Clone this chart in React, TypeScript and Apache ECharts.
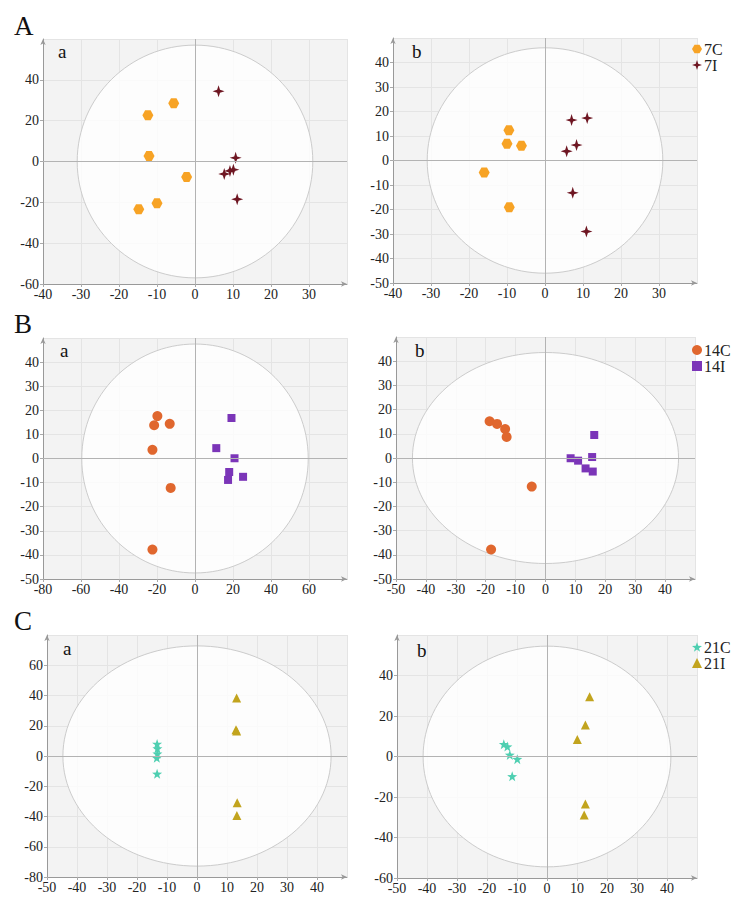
import React, { useEffect, useRef } from "react";
import * as echarts from "echarts";

const SERIF = "Liberation Serif";

// ---- data (score plots) ----
const aA_7C = [[-5.6, 28.5], [-12.4, 22.7], [-12.1, 2.7], [-2.2, -7.6], [-10, -20.5], [-14.8, -23.4]];
const aA_7I = [[6.2, 34.4], [10.7, 1.8], [7.7, -6.1], [9.2, -4.6], [10.1, -4], [11.1, -18.5]];
const bA_7C = [[-9.5, 12.3], [-10, 6.8], [-6.2, 6], [-16, -4.9], [-9.4, -19.1]];
const bA_7I = [[7, 16.5], [11.1, 17.3], [8.3, 6.3], [5.7, 3.8], [7.3, -13.2], [10.9, -29]];

const aB_14C = [[-19.8, 17.6], [-21.5, 13.8], [-13.3, 14.4], [-22.4, 3.6], [-12.8, -12.2], [-22.4, -37.8]];
const aB_14I = [[19.2, 16.8], [11.2, 4.3], [20.8, 0.1], [18, -5.6], [17.4, -8.9], [25.3, -7.6]];
const bB_14C = [[-18.7, 15.2], [-16.2, 14.1], [-13.5, 12], [-13, 8.7], [-4.6, -11.8], [-18.2, -37.8]];
const bB_14I = [[16.3, 9.5], [8.4, -0.1], [10.9, -1.1], [15.6, 0.4], [13.4, -4.3], [15.8, -5.6]];

const aC_21C = [[-13.3, 8], [-13.2, 5], [-13.2, 1.5], [-13.4, -1.2], [-13.3, -11.8]];
const aC_21I = [[13.2, 38.3], [13, 17.3], [13.2, 16.6], [13.4, -30.9], [13.3, -39.4]];
const bC_21C = [[-14.4, 6.1], [-13.2, 4.9], [-12.4, 0.8], [-9.9, -1.3], [-11.6, -9.8]];
const bC_21I = [[14.2, 29.5], [12.8, 15.6], [10.1, 8.4], [12.8, -23.4], [12.4, -28.9]];

// Hotelling T2 ellipse half-axes [rx, ry] per panel
const ellipses = [[31, 57], [31, 46], [59.6, 47.5], [44.5, 43.6], [44.7, 72.8], [41.3, 54.5]];
// axis ranges [min, max, interval]
const xRanges = [[-40, 40, 10], [-40, 40, 10], [-80, 80, 20], [-50, 50, 10], [-50, 50, 10], [-50, 50, 10]];
const yRanges = [[-60, 60, 20], [-50, 50, 10], [-50, 50, 10], [-50, 50, 10], [-80, 80, 20], [-60, 60, 20]];

const HEX = "path://M-1,0 L-0.5,-0.866 L0.5,-0.866 L1,0 L0.5,0.866 L-0.5,0.866 Z";
const STAR4 = "path://M0,-10 L2.4,-2.4 L10,0 L2.4,2.4 L0,10 L-2.4,2.4 L-10,0 L-2.4,-2.4 Z";
const STAR5 =
  "path://M0,-1 L0.235,-0.324 L0.951,-0.309 L0.38,0.124 L0.588,0.809 L0,0.4 L-0.588,0.809 L-0.38,0.124 L-0.951,-0.309 L-0.235,-0.324 Z";

const styles: Record<string, any> = {
  "7C": { symbol: HEX, size: [11, 10], color: "#F7A325" },
  "7I": { symbol: STAR4, size: 12, color: "#6E1622" },
  "14C": { symbol: "circle", size: 10, color: "#E0672E" },
  "14I": { symbol: "rect", size: 8, color: "#7B35B8" },
  "21C": { symbol: STAR5, size: 10, color: "#4ECFB1" },
  "21I": { symbol: "triangle", size: 9, color: "#C2A41E" },
};

const grids = [
  { left: 43, top: 39, width: 304, height: 245 },
  { left: 393, top: 38, width: 304, height: 245 },
  { left: 43, top: 338, width: 304, height: 241 },
  { left: 396, top: 337, width: 299, height: 242 },
  { left: 47, top: 635, width: 300, height: 242 },
  { left: 397, top: 635, width: 300, height: 243 },
];

const panelSeries: [string, number[][]][][] = [
  [["7C", aA_7C], ["7I", aA_7I]],
  [["7C", bA_7C], ["7I", bA_7I]],
  [["14C", aB_14C], ["14I", aB_14I]],
  [["14C", bB_14C], ["14I", bB_14I]],
  [["21C", aC_21C], ["21I", aC_21I]],
  [["21C", bC_21C], ["21I", bC_21I]],
];

const subLabels = [
  { t: "a", x: 58, y: 52 },
  { t: "b", x: 412, y: 52 },
  { t: "a", x: 60, y: 351 },
  { t: "b", x: 415, y: 351 },
  { t: "a", x: 63, y: 649 },
  { t: "b", x: 417, y: 651 },
];
const bigLabels = [
  { t: "A", x: 14, y: 26 },
  { t: "B", x: 14, y: 324 },
  { t: "C", x: 14, y: 621 },
];

export default function App() {
  const ref = useRef<HTMLDivElement>(null);
  useEffect(() => {
    if (!ref.current) return;
    const chart = echarts.init(ref.current, null, { renderer: "svg" });

    const tickRich = { t: { fontSize: 14, fontFamily: SERIF, color: "#222" } };
    const fmt = (v: number) => "{t|" + v + "}";
    const series: any[] = [];
    grids.forEach((_, i) => {
      series.push({
        type: "custom",
        name: "ellipse" + i,
        xAxisIndex: i,
        yAxisIndex: i,
        silent: true,
        z: 1,
        data: [ellipses[i]],
        renderItem: (params: any, api: any) => {
          const c = api.coord([0, 0]);
          const s = api.size([api.value(0), api.value(1)]);
          return {
            type: "ellipse",
            shape: { cx: c[0], cy: c[1], rx: s[0], ry: s[1] },
            style: { fill: "rgba(255,255,255,0.82)", stroke: "#cccccc", lineWidth: 1 },
          };
        },
        markLine: {
          silent: true,
          symbol: ["none", "none"],
          label: { show: false },
          lineStyle: { color: "#b3b3b3", type: "solid", width: 1 },
          data: [{ xAxis: 0 }, { yAxis: 0 }],
        },
      });
      panelSeries[i].forEach(([name, data]) => {
        const st = styles[name];
        series.push({
          type: "scatter",
          name,
          xAxisIndex: i,
          yAxisIndex: i,
          z: 3,
          symbol: st.symbol,
          symbolSize: st.size,
          itemStyle: { color: st.color, opacity: 1 },
          data,
        });
      });
    });

    const legendBase = {
      orient: "vertical",
      itemWidth: 10,
      itemHeight: 10,
      itemGap: 0,
      padding: 0,
      selectedMode: false,
      textStyle: { fontSize: 16, fontFamily: SERIF, color: "#222", lineHeight: 14.5, padding: [0, 0, 0, -3] },
    };

    const axisCommon = {
      type: "value",
      axisLine: {
        show: true,
        onZero: false,
        symbol: ["none", "arrow"],
        symbolSize: [4, 6],
        lineStyle: { color: "#999" },
      },
      axisTick: { show: true, length: 3, lineStyle: { color: "#aaa" } },
      splitLine: { show: true, lineStyle: { color: "#e4e4e4" } },
    };

    chart.setOption({
      animation: false,
      backgroundColor: "#ffffff",
      textStyle: { fontFamily: SERIF },
      grid: grids.map((g) => ({ ...g, show: true, backgroundColor: "#f3f3f3", borderWidth: 0 })),
      xAxis: grids.map((_, i) => ({
        ...axisCommon,
        gridIndex: i,
        min: xRanges[i][0],
        max: xRanges[i][1],
        interval: xRanges[i][2],
        axisLabel: { fontFamily: SERIF, fontSize: 14, color: "#222", margin: 3, showMaxLabel: false, formatter: fmt, rich: tickRich },
      })),
      yAxis: grids.map((_, i) => ({
        ...axisCommon,
        gridIndex: i,
        min: yRanges[i][0],
        max: yRanges[i][1],
        interval: yRanges[i][2],
        axisLabel: { fontFamily: SERIF, fontSize: 14, color: "#222", margin: 4, showMaxLabel: false, formatter: fmt, rich: tickRich },
      })),
      legend: [
        { ...legendBase, data: ["7C", "7I"], left: 692, top: 41 },
        { ...legendBase, data: ["14C", "14I"], left: 692, top: 342 },
        { ...legendBase, data: ["21C", "21I"], left: 692, top: 639 },
      ],
      graphic: [
        ...subLabels.map((l) => ({
          type: "text",
          left: l.x,
          top: l.y - 10,
          z: 10,
          style: { text: l.t, fontSize: 19, fontFamily: SERIF, fill: "#111" },
        })),
        ...bigLabels.map((l) => ({
          type: "text",
          left: l.x,
          top: l.y - 14,
          z: 10,
          style: { text: l.t, fontSize: 27, fontFamily: SERIF, fill: "#111" },
        })),
      ],
      series,
    });
    return () => chart.dispose();
  }, []);
  return (
    <div
      ref={ref}
      style={{ position: "fixed", left: 0, top: 0, width: 740, height: 906, background: "#fff" }}
    />
  );
}
